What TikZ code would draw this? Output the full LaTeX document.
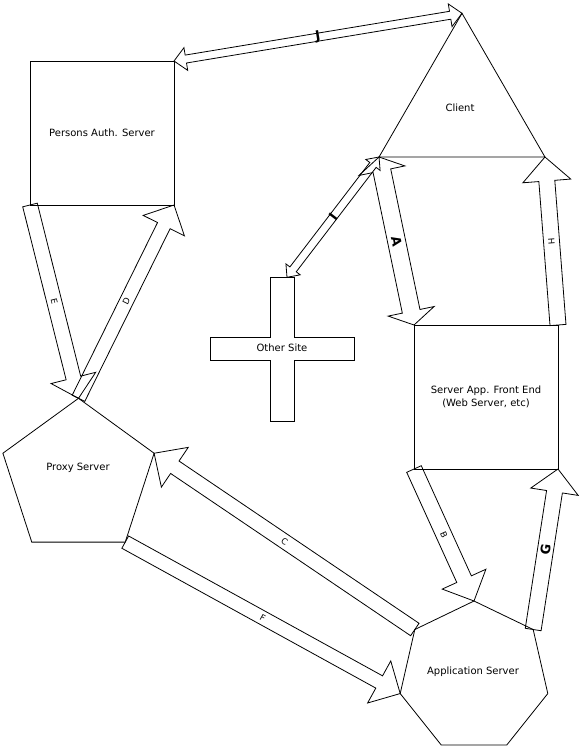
\documentclass[tikz,border=0pt]{standalone}
\usepackage{fontspec}
\setmainfont{DejaVu Sans}
\usetikzlibrary{shapes.geometric,calc}

% hollow block arrow: tail, tip, shaft half width, head half width, head length
\newcommand{\onearrow}[5]{%
  \coordinate (nk) at ($(#2)!#5!(#1)$);
  \draw ($(#1)!#3!90:(#2)$) -- ($(nk)!#3!-90:(#1)$) -- ($(nk)!#4!-90:(#1)$) -- (#2)
    -- ($(nk)!#4!90:(#1)$) -- ($(nk)!#3!90:(#1)$) -- ($(#1)!#3!-90:(#2)$) -- cycle;
}
% same with a head at both ends
\newcommand{\twoarrow}[5]{%
  \coordinate (na) at ($(#1)!#5!(#2)$);
  \coordinate (nb) at ($(#2)!#5!(#1)$);
  \draw (#1) -- ($(na)!#4!90:(#2)$) -- ($(na)!#3!90:(#2)$) -- ($(nb)!#3!-90:(#1)$)
    -- ($(nb)!#4!-90:(#1)$) -- (#2) -- ($(nb)!#4!90:(#1)$) -- ($(nb)!#3!90:(#1)$)
    -- ($(na)!#3!-90:(#2)$) -- ($(na)!#4!-90:(#2)$) -- cycle;
}

\tikzset{
  box/.style={draw, rectangle, minimum width=144pt, minimum height=144pt,
    inner sep=0pt, outer sep=0pt},
  poly/.style={draw, regular polygon, regular polygon sides=#1,
    inner sep=0pt, outer sep=0pt},
  txt/.style={font=\fontsize{10}{12.7}\selectfont, align=center},
  smalllbl/.style={font=\fontsize{8.5}{10}\selectfont, sloped},
  biglbl/.style={font=\fontsize{13}{15}\selectfont\bfseries, sloped},
}

\begin{document}
\begin{tikzpicture}[x=1pt,y=-1pt,line width=0.8pt]
  \useasboundingbox (0,0) rectangle (583,748);
  % Servers
  \node[box,txt] (auth) at (102,133) {Persons Auth. Server};
  \node[poly=3, minimum size=191.6pt] (client) at (462,109.1) {};
  \node[txt] (clienttext) at (460,108) {Client};
  \node[box,txt] (front) at (486,397) {Server App. Front End\\(Web Server, etc)};
  \node[poly=5, minimum size=159pt] (proxy) at (78.5,477.8) {};
  \node[txt] (proxytext) at (78,468) {Proxy Server};
  \node[poly=7, minimum size=151.4pt] (app) at (474,676.7) {};
  \node[txt] (apptext) at (473,672) {Application Server};
  % Other site
  \draw (270.3,277.3) -- (294.3,277.3) -- (294.3,337.3) -- (354.3,337.3)
    -- (354.3,360.7) -- (294.3,360.7) -- (294.3,421.3) -- (270.3,421.3)
    -- (270.3,360.7) -- (210.3,360.7) -- (210.3,337.3) -- (270.3,337.3) -- cycle;
  \node[txt] (other) at (282,348) {Other Site};
  \coordinate (othertop) at (287,277.3);
  % Arrows
  \twoarrow{auth.north east}{client.corner 1}{4pt}{11.5pt}{12pt}
  \path (auth.north east) -- node[biglbl] {J} (client.corner 1);
  \twoarrow{client.corner 2}{othertop}{4pt}{9pt}{10pt}
  \path (client.corner 2) -- node[biglbl] {I} (othertop);
  \twoarrow{client.corner 2}{front.north west}{9pt}{23.5pt}{14pt}
  \path (client.corner 2) -- node[biglbl] {A} (front.north west);
  \onearrow{front.north east}{client.corner 3}{8pt}{24pt}{24pt}
  \path (front.north east) -- node[smalllbl] {H} (client.corner 3);
  \onearrow{auth.south west}{proxy.corner 1}{7.5pt}{23pt}{21pt}
  \path (auth.south west) -- node[smalllbl] {E} (proxy.corner 1);
  \onearrow{proxy.corner 1}{auth.south east}{7pt}{23pt}{23pt}
  \path (proxy.corner 1) -- node[smalllbl] {D} (auth.south east);
  \onearrow{front.south west}{app.corner 1}{8pt}{24pt}{24pt}
  \path (front.south west) -- node[smalllbl] {B} (app.corner 1);
  \onearrow{app.corner 7}{front.south east}{8pt}{24pt}{23pt}
  \path (app.corner 7) -- node[biglbl] {G} (front.south east);
  \onearrow{app.corner 2}{proxy.corner 5}{7.5pt}{24pt}{25pt}
  \path (app.corner 2) -- node[smalllbl] {C} (proxy.corner 5);
  \onearrow{proxy.corner 4}{app.corner 3}{7pt}{24pt}{24pt}
  \path (proxy.corner 4) -- node[smalllbl] {F} (app.corner 3);
\end{tikzpicture}
\end{document}
